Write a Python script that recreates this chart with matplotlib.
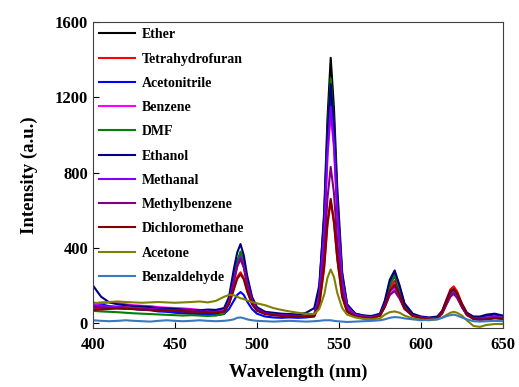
import numpy as np
import matplotlib.pyplot as plt

plt.rcParams['font.family'] = ['Liberation Serif', 'DejaVu Serif']
plt.rcParams['font.weight'] = 'bold'

# 波长取样点
wl = [400, 405, 410, 415, 420, 425, 430, 435, 440, 445, 450, 455, 460, 465, 470, 475, 480,
      483, 486, 488, 490, 492, 494, 497, 500,
      505, 510, 515, 520, 525, 530, 535,
      538, 541, 543, 545, 547, 549, 552, 555,
      560, 565, 570, 575,
      578, 581, 584, 587, 590,
      595, 600, 605, 610,
      613, 616, 618, 620, 622, 625, 628,
      632, 636, 640, 645, 650]

names = ['Ether', 'Tetrahydrofuran', 'Acetonitrile', 'Benzene', 'DMF', 'Ethanol',
         'Methanal', 'Methylbenzene', 'Dichloromethane', 'Acetone', 'Benzaldehyde']
colors = ['#000000', '#ff0000', '#0000ff', '#ff00ff', '#008000', '#000080',
          '#8000ff', '#800080', '#800000', '#808000', '#3a78c0']

ether = [90, 85, 80, 82, 78, 75, 72, 70, 68, 66, 62, 60, 58, 55, 52, 50, 62,
         120, 250, 330, 370, 320, 230, 130, 80,
         55, 50, 46, 44, 42, 40, 46,
         170, 590, 1080, 1410, 1140, 720, 270, 100,
         50, 40, 35, 45,
         110, 215, 270, 190, 100,
         45, 30, 25, 30,
         60, 125, 165, 180, 155, 95, 50,
         30, 25, 30, 35, 30]
thf = [75, 80, 85, 88, 85, 80, 78, 80, 75, 72, 70, 68, 72, 65, 60, 58, 65,
       105, 190, 245, 270, 240, 175, 105, 70,
       55, 48, 42, 40, 38, 36, 40,
       90, 290, 520, 650, 530, 340, 140, 60,
       35, 30, 28, 40,
       100, 185, 225, 160, 85,
       40, 28, 25, 30,
       65, 135, 180, 195, 170, 105, 55,
       25, 20, 22, 28, 25]
acetonitrile = [110, 100, 90, 85, 80, 75, 72, 68, 62, 60, 55, 52, 50, 48, 45, 42, 48,
                75, 120, 150, 165, 150, 115, 75, 50,
                35, 30, 28, 30, 28, 30, 35,
                150, 520, 960, 1230, 1010, 620, 230, 85,
                40, 32, 30, 42,
                105, 205, 250, 175, 95,
                40, 28, 25, 28,
                58, 120, 160, 175, 150, 90, 45,
                30, 28, 40, 45, 35]
benzene = [100, 105, 110, 108, 100, 95, 92, 90, 85, 82, 80, 78, 75, 70, 68, 65, 70,
           115, 235, 315, 355, 305, 220, 125, 75,
           55, 48, 42, 40, 38, 36, 42,
           140, 470, 880, 1120, 930, 580, 220, 85,
           45, 35, 32, 40,
           85, 150, 180, 135, 75,
           40, 30, 25, 28,
           55, 115, 150, 165, 145, 90, 45,
           25, 22, 30, 35, 30]
dmf = [65, 62, 60, 58, 55, 52, 50, 48, 46, 44, 42, 40, 42, 40, 38, 40, 50,
       110, 240, 325, 380, 330, 235, 130, 75,
       50, 45, 42, 40, 38, 36, 40,
       160, 540, 1010, 1300, 1060, 660, 250, 95,
       45, 36, 32, 42,
       105, 200, 255, 180, 95,
       40, 28, 25, 28,
       55, 115, 155, 170, 148, 90, 45,
       28, 25, 28, 32, 28]
ethanol = [200, 140, 110, 100, 95, 90, 88, 85, 80, 78, 75, 72, 70, 68, 72, 70, 80,
           140, 290, 375, 420, 360, 255, 140, 85,
           60, 55, 50, 48, 46, 55, 80,
           200, 560, 1000, 1270, 1050, 650, 250, 95,
           50, 40, 38, 50,
           120, 230, 280, 200, 105,
           50, 35, 30, 35,
           65, 130, 170, 180, 158, 100, 55,
           35, 35, 45, 50, 40]
methanal = [95, 90, 88, 85, 82, 80, 78, 75, 72, 70, 68, 66, 64, 62, 60, 58, 64,
            110, 230, 305, 350, 300, 215, 120, 75,
            52, 46, 42, 40, 38, 36, 42,
            145, 490, 900, 1150, 950, 595, 225, 88,
            45, 36, 32, 42,
            95, 170, 195, 145, 80,
            40, 30, 25, 28,
            55, 115, 150, 160, 140, 85, 45,
            25, 22, 28, 32, 28]
methylbenzene = [85, 82, 80, 78, 76, 75, 72, 70, 68, 66, 64, 62, 60, 58, 56, 55, 62,
                 105, 220, 300, 340, 295, 210, 118, 72,
                 50, 45, 40, 38, 36, 35, 40,
                 115, 360, 660, 830, 690, 430, 170, 70,
                 40, 32, 30, 40,
                 85, 150, 170, 130, 75,
                 38, 28, 22, 25,
                 50, 105, 140, 155, 135, 85, 42,
                 22, 18, 22, 28, 25]
dcm = [70, 72, 75, 78, 76, 74, 72, 70, 70, 68, 66, 64, 62, 60, 58, 56, 62,
       100, 180, 235, 260, 232, 170, 100, 65,
       48, 42, 38, 36, 34, 33, 38,
       95, 300, 530, 660, 540, 345, 140, 60,
       35, 28, 26, 38,
       90, 170, 205, 150, 80,
       38, 26, 22, 28,
       60, 125, 165, 180, 158, 98, 50,
       22, 18, 20, 25, 22]
acetone = [105, 110, 112, 115, 112, 110, 108, 110, 112, 110, 108, 110, 112, 115, 110, 118, 140,
           150, 148, 140, 132, 128, 120, 112, 105,
           95, 80, 70, 62, 55, 50, 48,
           75, 150, 240, 285, 245, 160, 80, 45,
           30, 22, 20, 25,
           45, 58, 62, 55, 40,
           25, 18, 15, 20,
           30, 45, 55, 60, 55, 40, 15,
           -15, -20, -10, -5, -5]
benzaldehyde = [15, 12, 10, 12, 15, 12, 10, 8, 12, 15, 12, 10, 12, 15, 12, 10, 12,
                15, 20, 28, 30, 26, 20, 15, 12,
                10, 8, 10, 12, 10, 8, 10,
                12, 15, 15, 15, 12, 10, 8, 6,
                8, 10, 12, 15,
                20, 28, 32, 30, 25,
                20, 15, 18, 20,
                28, 38, 42, 45, 40, 30, 20,
                10, 8, 10, 12, 10]

series = [ether, thf, acetonitrile, benzene, dmf, ethanol,
          methanal, methylbenzene, dcm, acetone, benzaldehyde]

fig = plt.figure(figsize=(5.19, 3.87), dpi=100)
ax = fig.add_axes([0.179, 0.152, 0.790, 0.791])

for name, ys, c in zip(names, series, colors):
    ax.plot(wl, ys, color=c, lw=1.5, label=name)

ax.set_xlim(400, 650)
ax.set_ylim(-27, 1600)
ax.set_xticks([400, 450, 500, 550, 600, 650])
ax.set_yticks([0, 400, 800, 1200, 1600])
ax.tick_params(direction='in', length=4, labelsize=12, top=False, right=False)
ax.tick_params(axis='x', pad=6)
for lab in ax.get_xticklabels() + ax.get_yticklabels():
    lab.set_fontweight('bold')
for sp in ax.spines.values():
    sp.set_color('#404040')

ax.set_xlabel('Wavelength (nm)', fontsize=13.5, fontweight='bold', labelpad=8)
ax.set_ylabel('Intensity (a.u.)', fontsize=13.5, fontweight='bold', labelpad=12)

leg = ax.legend(loc='upper left', frameon=False, handlelength=2.6,
                labelspacing=0.81, borderaxespad=0.05, handletextpad=0.5,
                prop={'weight': 'bold', 'size': 10})

fig.savefig('out.png', dpi=100)
